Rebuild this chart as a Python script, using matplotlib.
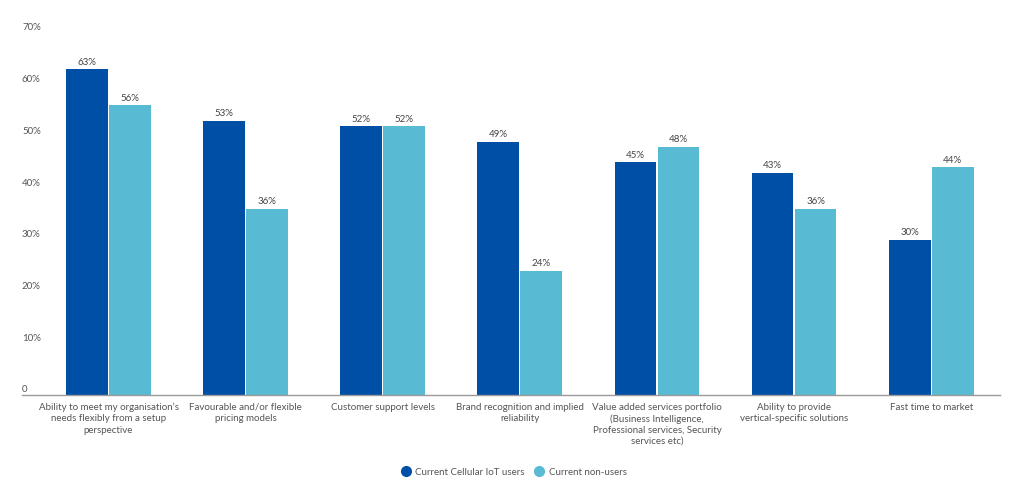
import matplotlib
matplotlib.use("Agg")
import matplotlib.pyplot as plt
import matplotlib.transforms as mtransforms
from matplotlib.lines import Line2D
import numpy as np

categories = [
    "Ability to meet my organisation\u2019s\nneeds flexibly from a setup\nperspective",
    "Favourable and/or flexible\npricing models",
    "Customer support levels",
    "Brand recognition and implied\nreliability",
    "Value added services portfolio\n(Business Intelligence,\nProfessional services, Security\nservices etc)",
    "Ability to provide\nvertical-specific solutions",
    "Fast time to market",
]
series_names = ["Current Cellular IoT users", "Current non-users"]
users = [63, 53, 52, 49, 45, 43, 30]
non_users = [56, 36, 52, 24, 48, 36, 44]
yticks = [0, 10, 20, 30, 40, 50, 60, 70]
ytick_labels = ["0", "10%", "20%", "30%", "40%", "50%", "60%", "70%"]

colors = ["#004FA7", "#58BAD3"]
text_color = "#555555"

plt.rcParams['font.family'] = ['Lato', 'DejaVu Sans']

W, H = 1024, 502
fig = plt.figure(figsize=(W / 100, H / 100), dpi=100)
left_px, right_px = 22, 1000
bottom_px, top_px = 396, 34
ax = fig.add_axes([left_px / W, (H - bottom_px) / H, (right_px - left_px) / W, (bottom_px - top_px) / H])

x = np.arange(len(categories))
bw = 0.305
off = 0.157
b1 = ax.bar(x - off, users, width=bw, color=colors[0], zorder=2)
b2 = ax.bar(x + off, non_users, width=bw, color=colors[1], zorder=2)

cat_px = 137.1
ax.set_xlim(-0.5 - (40 - left_px) / cat_px, -0.5 + (right_px - left_px - (40 - left_px)) / cat_px)
ax.set_ylim(0, 70)

for bars, vals in ((b1, users), (b2, non_users)):
    for rect, v in zip(bars, vals):
        ax.annotate(f"{v}%", (rect.get_x() + rect.get_width() / 2, v),
                    xytext=(0, 2.5), textcoords="offset points",
                    ha="center", va="bottom", fontsize=7, color="#444444")

for s in ["top", "right", "left"]:
    ax.spines[s].set_visible(False)
ax.spines["bottom"].set_color("#9a9a9a")
ax.spines["bottom"].set_linewidth(1.0)
ax.set_yticks([])
ax.tick_params(axis="x", length=0, pad=5)
ax.set_xticks(x)
ax.set_xticklabels(categories, fontsize=7, color=text_color, linespacing=1.3, va="top")

trans = mtransforms.blended_transform_factory(ax.transAxes, ax.transData)
trans = trans + mtransforms.ScaledTranslation(0, 6 / 100, fig.dpi_scale_trans)
for v, lab in zip(yticks, ytick_labels):
    ax.text(0, v, lab, transform=trans, ha="left", va="center", fontsize=7, color=text_color)

handles = [Line2D([0], [0], marker="o", linestyle="none", markersize=7,
                  markerfacecolor=c, markeredgecolor=c) for c in colors]
fig.legend(handles, series_names, loc="center", bbox_to_anchor=(514 / W, (H - 473) / H),
           ncol=2, frameon=False, fontsize=7, labelcolor=text_color,
           handletextpad=0.5, columnspacing=1.0, handlelength=1.0)

fig.savefig("out.png", dpi=100)
